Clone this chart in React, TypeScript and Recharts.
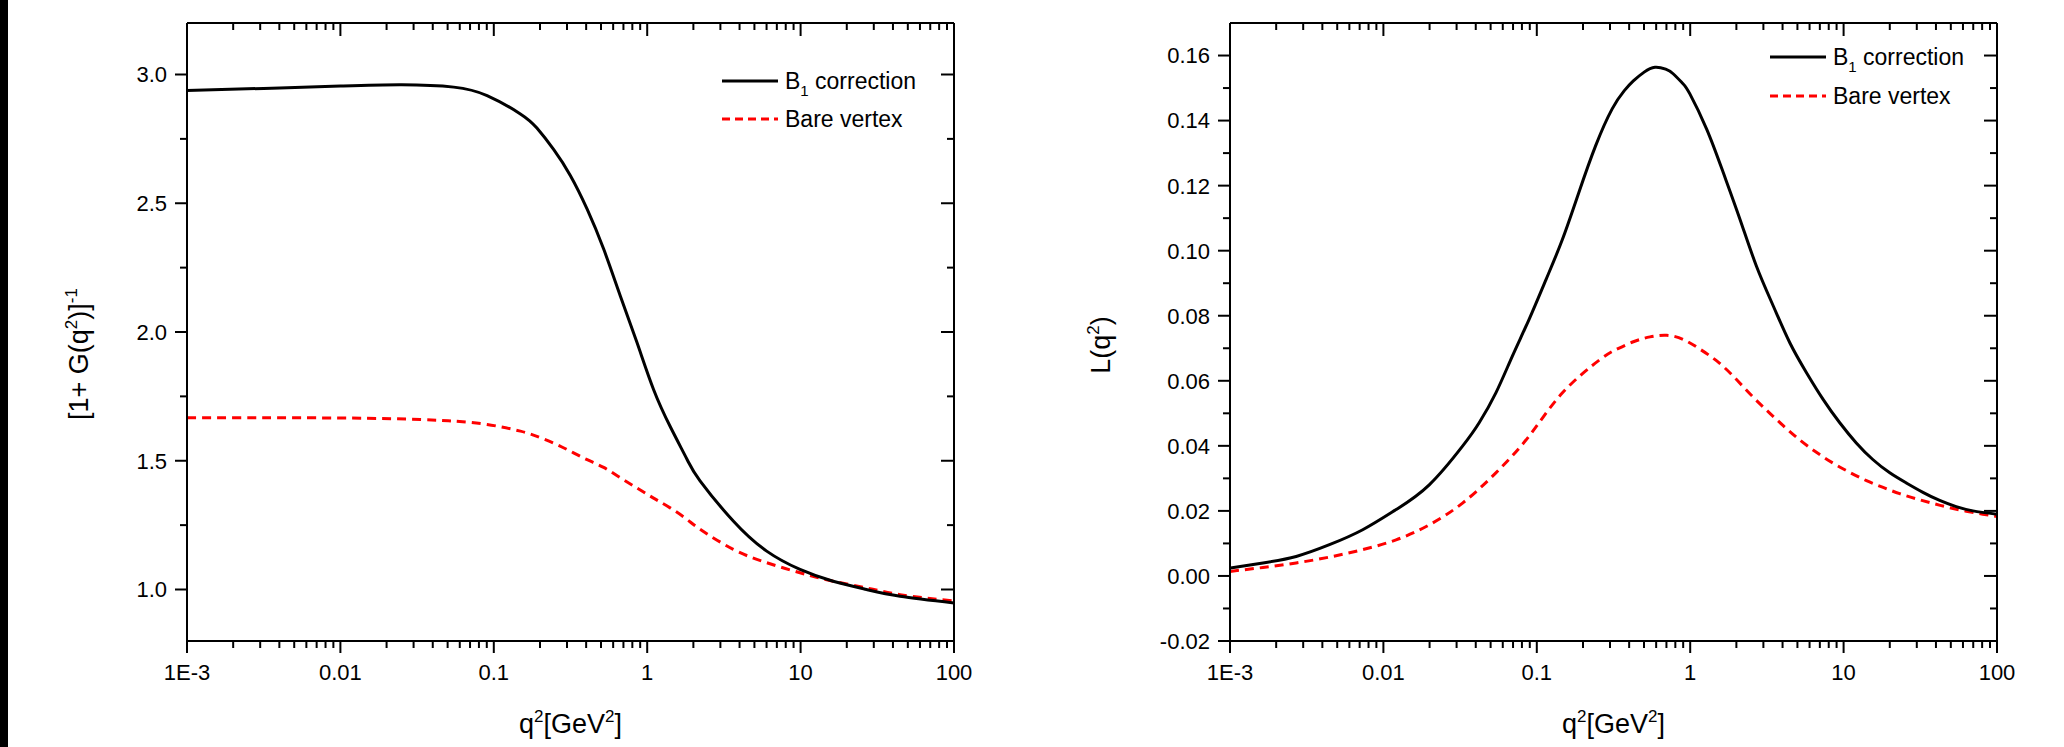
import React from 'react';
import { LineChart, Line, XAxis, YAxis, Legend } from 'recharts';

const FONT = '"Liberation Sans", Arial, sans-serif';

// q^2 axis (GeV^2), log scale
const xMajorTicks = [0.001, 0.01, 0.1, 1, 10, 100];
const xMajorLabels = ['1E-3', '0.01', '0.1', '1', '10', '100'];

// left panel: [1 + G(q^2)]^-1
const leftYMajor = [1.0, 1.5, 2.0, 2.5, 3.0];
const leftYMinor = [1.25, 1.75, 2.25, 2.75];

const leftB1Q2 = [0.001, 0.00316, 0.01, 0.0251, 0.0548, 0.0904, 0.149, 0.191, 0.246, 0.316, 0.406, 0.521, 0.668, 0.859, 1.10, 1.42, 1.82, 2.21, 3.64, 6.01, 9.91, 16.3, 26.9, 44.5, 100];
const leftB1 = [2.938, 2.946, 2.955, 2.96, 2.951, 2.918, 2.847, 2.792, 2.708, 2.607, 2.477, 2.321, 2.14, 1.958, 1.777, 1.63, 1.505, 1.422, 1.266, 1.149, 1.078, 1.032, 1.0, 0.974, 0.948];

const leftBareQ2 = [0.001, 0.01, 0.0332, 0.0547, 0.0904, 0.149, 0.191, 0.245, 0.316, 0.406, 0.52, 0.668, 0.859, 1.10, 1.42, 1.82, 2.21, 3.64, 6.01, 9.91, 16.3, 26.9, 44.5, 100];
const leftBare = [1.667, 1.666, 1.660, 1.654, 1.641, 1.615, 1.595, 1.569, 1.537, 1.504, 1.474, 1.434, 1.394, 1.355, 1.316, 1.272, 1.234, 1.156, 1.104, 1.065, 1.032, 1.006, 0.980, 0.955];

// right panel: L(q^2)
const rightYMajor = [-0.02, 0, 0.02, 0.04, 0.06, 0.08, 0.1, 0.12, 0.14, 0.16];
const rightYMinor = [-0.01, 0.01, 0.03, 0.05, 0.07, 0.09, 0.11, 0.13, 0.15];

const rightB1Q2 = [0.001, 0.00164, 0.0027, 0.00445, 0.00733, 0.0121, 0.0199, 0.0328, 0.0421, 0.0541, 0.0693, 0.0891, 0.115, 0.147, 0.188, 0.242, 0.31, 0.372, 0.426, 0.501, 0.589, 0.692, 0.774, 0.891, 0.995, 1.28, 1.64, 2.11, 2.7, 3.48, 4.46, 5.73, 7.35, 9.44, 12.1, 15.5, 20.0, 25.6, 32.9, 42.3, 54.2, 69.7, 100];
const rightB1 = [0.0024, 0.004, 0.006, 0.0096, 0.0142, 0.0204, 0.028, 0.0399, 0.0471, 0.0563, 0.0676, 0.0789, 0.0912, 0.1035, 0.1179, 0.1323, 0.1436, 0.1492, 0.1522, 0.1549, 0.1564, 0.1558, 0.1544, 0.1515, 0.1482, 0.1374, 0.1241, 0.1097, 0.0953, 0.083, 0.0717, 0.0625, 0.0543, 0.0471, 0.0409, 0.0358, 0.0317, 0.0286, 0.0257, 0.0232, 0.0213, 0.02, 0.019];

const rightBareQ2 = [0.001, 0.00164, 0.0027, 0.00445, 0.00733, 0.0121, 0.0199, 0.0328, 0.0541, 0.0891, 0.147, 0.258, 0.332, 0.426, 0.547, 0.702, 0.902, 1.16, 1.49, 1.91, 2.45, 3.14, 4.04, 5.18, 6.65, 8.53, 11.0, 14.1, 18.1, 23.2, 29.8, 38.2, 49.0, 63.0, 80.7, 100];
const rightBare = [0.0014, 0.0026, 0.004, 0.0058, 0.0081, 0.0111, 0.0157, 0.0224, 0.0317, 0.043, 0.0563, 0.0665, 0.0697, 0.072, 0.0735, 0.074, 0.0727, 0.0697, 0.0661, 0.0614, 0.056, 0.051, 0.0462, 0.0418, 0.038, 0.0347, 0.0318, 0.0293, 0.0272, 0.0253, 0.0237, 0.0223, 0.021, 0.0199, 0.019, 0.0183];

const toRows = (q: number[], v: number[]) => q.map((x, i) => ({ q: x, v: v[i] }));

// minor decade ticks 2..9 between the labelled decades
const xAllTicks = [
  ...xMajorTicks,
  ...xMajorTicks.slice(0, -1).flatMap((d) => [2, 3, 4, 5, 6, 7, 8, 9].map((m) => d * m)),
];

const near = (list: number[], v: number) => list.findIndex((t) => Math.abs(t - v) <= Math.abs(t) * 1e-6 + 1e-9);

function BottomTick(props: any) {
  const { x, y, payload } = props;
  const i = near(xMajorTicks, payload.value);
  const major = i >= 0;
  return (
    <g>
      <line x1={x} x2={x} y1={y} y2={y + (major ? 12 : 7)} stroke="#000" strokeWidth={2} />
      {major && (
        <text x={x} y={y + 39} textAnchor="middle" fontSize={22} fontFamily={FONT} fill="#000">
          {xMajorLabels[i]}
        </text>
      )}
    </g>
  );
}

function TopTick(props: any) {
  const { x, y, payload } = props;
  const major = near(xMajorTicks, payload.value) >= 0;
  return <line x1={x} x2={x} y1={y} y2={y + (major ? 13 : 7)} stroke="#000" strokeWidth={2} />;
}

function makeLeftTick(majors: number[], digits: number) {
  return (props: any) => {
    const { x, y, payload } = props;
    const major = near(majors, payload.value) >= 0;
    return (
      <g>
        <line x1={x - (major ? 12 : 7)} x2={x} y1={y} y2={y} stroke="#000" strokeWidth={2} />
        {major && (
          <text x={x - 20} y={y} dy="0.36em" textAnchor="end" fontSize={22} fontFamily={FONT} fill="#000">
            {payload.value.toFixed(digits)}
          </text>
        )}
      </g>
    );
  };
}

function makeRightTick(majors: number[]) {
  return (props: any) => {
    const { x, y, payload } = props;
    const major = near(majors, payload.value) >= 0;
    return <line x1={x - (major ? 13 : 7)} x2={x} y1={y} y2={y} stroke="#000" strokeWidth={2} />;
  };
}

function XTitle({ cx }: { cx: number }) {
  return (
    <text x={cx} y={733} textAnchor="middle" fontSize={27} fontFamily={FONT} fill="#000">
      q<tspan dy={-11} fontSize={17}>2</tspan>
      <tspan dy={11}>[GeV</tspan>
      <tspan dy={-11} fontSize={17}>2</tspan>
      <tspan dy={11}>]</tspan>
    </text>
  );
}

function LeftYTitle() {
  return (
    <text x={88} y={354} transform="rotate(-90 88 354)" textAnchor="middle" fontSize={27} fontFamily={FONT} fill="#000">
      [1+ G(q<tspan dy={-11} fontSize={17}>2</tspan>
      <tspan dy={11}>)]</tspan>
      <tspan dy={-11} fontSize={17}>-1</tspan>
    </text>
  );
}

function RightYTitle() {
  return (
    <text x={60} y={345} transform="rotate(-90 60 345)" textAnchor="middle" fontSize={27} fontFamily={FONT} fill="#000">
      L(q<tspan dy={-11} fontSize={17}>2</tspan>
      <tspan dy={11}>)</tspan>
    </text>
  );
}

function SeriesLegend({ gap }: { gap: number }) {
  return (
    <svg width={240} height={gap + 30} style={{ display: 'block', overflow: 'visible' }}>
      <line x1={0} x2={56} y1={15} y2={15} stroke="#000" strokeWidth={3} />
      <text x={63} y={15} dy="0.36em" fontSize={23} fontFamily={FONT} fill="#000">
        B<tspan fontSize={15} dy={7}>1</tspan>
        <tspan dy={-7}> correction</tspan>
      </text>
      <line x1={0} x2={56} y1={15 + gap} y2={15 + gap} stroke="#ff0000" strokeWidth={3} strokeDasharray="8 5" />
      <text x={63} y={15 + gap} dy="0.36em" fontSize={23} fontFamily={FONT} fill="#000">
        Bare vertex
      </text>
    </svg>
  );
}

interface PanelProps {
  left: number;
  width: number;
  axisWidth: number;
  marginRight: number;
  yDomain: [number, number];
  yMajor: number[];
  yMinor: number[];
  digits: number;
  b1: { q: number; v: number }[];
  bare: { q: number; v: number }[];
  yTitle: React.ReactElement;
  legendPos: { left: number; top: number; gap: number };
}

function Panel(p: PanelProps) {
  const plotCx = p.axisWidth + (p.width - p.axisWidth - p.marginRight - 1) / 2;
  const yTicks = [...p.yMajor, ...p.yMinor];
  return (
    <div style={{ position: 'absolute', left: p.left, top: 0 }}>
      <LineChart width={p.width} height={747} margin={{ top: 22, right: p.marginRight, bottom: 0, left: 0 }}>
        <XAxis
          xAxisId="b"
          dataKey="q"
          type="number"
          scale="log"
          domain={[0.001, 100]}
          allowDataOverflow
          ticks={xAllTicks}
          interval={0}
          height={106}
          tickSize={0}
          tickMargin={0}
          tickLine={false}
          axisLine={{ stroke: '#000', strokeWidth: 2 }}
          tick={BottomTick}
          label={<XTitle cx={plotCx} />}
        />
        {/* mirrored frame: top and right axes with inward ticks */}
        <XAxis
          xAxisId="t"
          orientation="top"
          dataKey="q"
          type="number"
          scale="log"
          domain={[0.001, 100]}
          allowDataOverflow
          ticks={xAllTicks}
          interval={0}
          height={1}
          tickSize={0}
          tickMargin={0}
          tickLine={false}
          axisLine={{ stroke: '#000', strokeWidth: 2 }}
          tick={TopTick}
        />
        <YAxis
          yAxisId="l"
          type="number"
          domain={p.yDomain}
          allowDataOverflow
          ticks={yTicks}
          interval={0}
          width={p.axisWidth}
          tickSize={0}
          tickMargin={0}
          tickLine={false}
          axisLine={{ stroke: '#000', strokeWidth: 2 }}
          tick={makeLeftTick(p.yMajor, p.digits)}
          label={p.yTitle}
        />
        <YAxis
          yAxisId="r"
          orientation="right"
          type="number"
          domain={p.yDomain}
          allowDataOverflow
          ticks={yTicks}
          interval={0}
          width={1}
          tickSize={0}
          tickMargin={0}
          tickLine={false}
          axisLine={{ stroke: '#000', strokeWidth: 2 }}
          tick={makeRightTick(p.yMajor)}
        />
        <Line
          xAxisId="b"
          yAxisId="l"
          data={p.bare}
          dataKey="v"
          name="Bare vertex"
          type="natural"
          stroke="#ff0000"
          strokeWidth={3}
          strokeDasharray="9 6"
          dot={false}
          isAnimationActive={false}
        />
        <Line
          xAxisId="t"
          yAxisId="r"
          data={p.b1}
          dataKey="v"
          name="B1 correction"
          type="natural"
          stroke="#000"
          strokeWidth={3}
          dot={false}
          isAnimationActive={false}
        />
        <Legend
          layout="vertical"
          align="center"
          verticalAlign="middle"
          wrapperStyle={{ left: p.legendPos.left, top: p.legendPos.top, width: 240, bottom: 'auto', right: 'auto' }}
          content={() => <SeriesLegend gap={p.legendPos.gap} />}
        />
      </LineChart>
    </div>
  );
}

export default function App() {
  return (
    <div style={{ position: 'absolute', left: 0, top: 0, width: 2064, height: 747, background: '#fff', overflow: 'hidden' }}>
      <div style={{ position: 'absolute', left: 0, top: 0, width: 8, height: 747, background: '#000' }} />
      <Panel
        left={0}
        width={1050}
        axisWidth={187}
        marginRight={95}
        yDomain={[0.8, 3.2]}
        yMajor={leftYMajor}
        yMinor={leftYMinor}
        digits={1}
        b1={toRows(leftB1Q2, leftB1)}
        bare={toRows(leftBareQ2, leftBare)}
        yTitle={<LeftYTitle />}
        legendPos={{ left: 722, top: 66, gap: 38 }}
      />
      <Panel
        left={1050}
        width={1014}
        axisWidth={180}
        marginRight={66}
        yDomain={[-0.02, 0.17]}
        yMajor={rightYMajor}
        yMinor={rightYMinor}
        digits={2}
        b1={toRows(rightB1Q2, rightB1)}
        bare={toRows(rightBareQ2, rightBare)}
        yTitle={<RightYTitle />}
        legendPos={{ left: 720, top: 42, gap: 39 }}
      />
    </div>
  );
}
